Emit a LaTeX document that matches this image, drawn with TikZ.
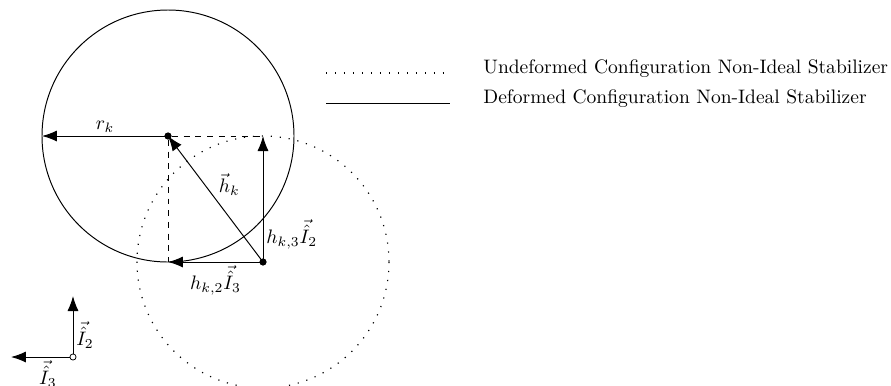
\documentclass[tikz,border=0pt]{standalone}
\usepackage{amsmath,amssymb}
\usepackage{tikz}
\usetikzlibrary{arrows.meta}
\tikzset{
  vecarr/.style={-{Latex[length=2.7mm,width=2mm]}, line width=0.5pt},
  helpline/.style={dashed, line width=0.5pt},
  undeformed/.style={loosely dotted, line width=0.6pt},
  deformed/.style={line width=0.5pt},
  ptdot/.style={circle, fill=black, inner sep=0pt, minimum size=1.3mm},
  origdot/.style={circle, draw=black, fill=white, inner sep=0pt, minimum size=1.1mm, line width=0.4pt},
  lab/.style={inner sep=1.5pt},
  legtxt/.style={anchor=base west, inner sep=0pt},
}
\begin{document}
\begin{tikzpicture}[x=0.018cm, y=-0.018cm]
    \useasboundingbox (0,0) rectangle (891,385);
    % the two configurations of the stabilizer
    \draw[undeformed] (263,262) circle (126);
    \draw[deformed] (168,136) circle (126);
    % points
    \node[ptdot] (ctr) at (168,136) {};
    \node[ptdot] (pt) at (263,262) {};
    \coordinate (rim) at (42,136);
    \coordinate (top) at (263,136);
    \coordinate (bot) at (168,262);
    % helper lines
    \draw[helpline] (ctr) -- (top);
    \draw[helpline] (ctr) -- (bot);
    % vectors
    \draw[vecarr] (ctr.center) -- (rim) node[midway, above, lab] (rklab) {$r_k$};
    \draw[vecarr] (pt.center) -- (ctr.center) node[midway, above right, lab] (hklab) {$\vec{h}_k$};
    \draw[vecarr] (pt.center) -- (top) node[pos=0.22, right, lab] (h3lab) {$h_{k,3}\vec{\hat{I}}_2$};
    \draw[vecarr] (pt.center) -- (bot) node[midway, below, lab] (h2lab) {$h_{k,2}\vec{\hat{I}}_3$};
    % the frame
    \node[origdot] (orig) at (73,357) {};
    \coordinate (ax2) at (73,296);
    \coordinate (ax3) at (11,357);
    \draw[vecarr] (orig) -- (ax2) node[pos=0.32, right, lab] (i2lab) {$\vec{\hat{I}}_2$};
    \draw[vecarr] (orig) -- (ax3) node[pos=0.37, below, lab] (i3lab) {$\vec{\hat{I}}_3$};
    % legend
    \coordinate (la) at (326,73);
    \coordinate (lb) at (448,73);
    \coordinate (lc) at (326,103);
    \coordinate (ld) at (450,103);
    \draw[undeformed] (la) -- (lb);
    \draw[deformed] (lc) -- (ld);
    \node[legtxt] (legund) at (483,73) {Undeformed Configuration Non-Ideal Stabilizer};
    \node[legtxt] (legdef) at (483,103) {Deformed Configuration Non-Ideal Stabilizer};
\end{tikzpicture}
\end{document}
